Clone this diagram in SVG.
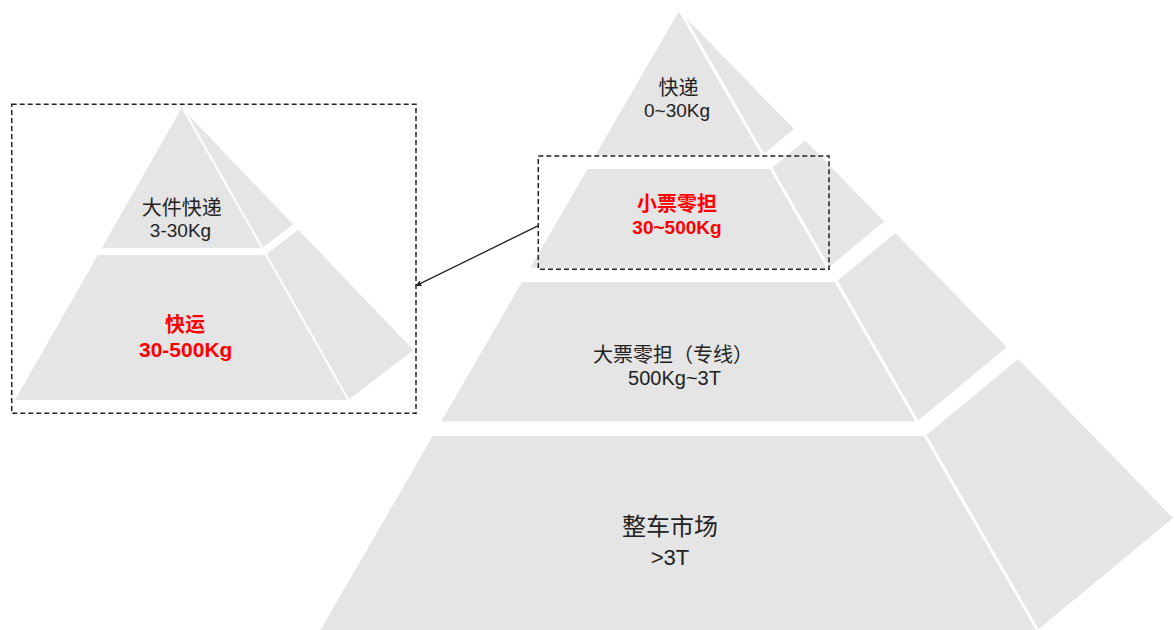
<svg xmlns="http://www.w3.org/2000/svg" width="1174" height="630" viewBox="0 0 1174 630">
  <style>
    .face { fill: #e5e5e5; }
    .sep { stroke: #ffffff; stroke-width: 3; fill: none; }
    .sepS { stroke: #ffffff; stroke-width: 2; fill: none; }
    .box { fill: none; stroke: #222222; stroke-width: 1.5; stroke-dasharray: 5 3; }
    .t { font-family: "Liberation Sans", "Noto Sans CJK SC", sans-serif; text-anchor: middle; fill: #222222; }
    .r { font-family: "Liberation Sans", "Noto Sans CJK SC", sans-serif; text-anchor: middle; fill: #ff0000; font-weight: bold; }
    .conn { stroke: #222222; stroke-width: 1.3; fill: none; }
  </style>
  <defs>
    <marker id="arrow" viewBox="0 0 10 10" refX="9" refY="5" markerWidth="6" markerHeight="6" orient="auto" markerUnits="userSpaceOnUse">
      <path d="M0,0 L10,5 L0,10 z" fill="#222222"/>
    </marker>
  </defs>

  <!-- Big pyramid -->
  <g id="big-tier1">
    <polygon class="face" points="679,11 595.6,155 762.4,155"/>
    <polygon class="face" points="679,11 762.4,155 793.9,128.9"/>
    <text class="t" x="678.5" y="95" font-size="20">快递</text>
    <text class="t" x="677" y="117" font-size="19">0~30Kg</text>
  </g>
  <g id="big-tier2">
    <polygon class="face" points="587.5,169 770.5,169 827.9,268 530.1,268"/>
    <polygon class="face" points="770.5,169 805.1,140.4 884.1,221.5 827.9,268"/>
    <text class="r" x="677" y="211" font-size="20">小票零担</text>
    <text class="r" x="677" y="234" font-size="19">30~500Kg</text>
  </g>
  <g id="big-tier3">
    <polygon class="face" points="522,282 836,282 916.8,421.5 441.2,421.5"/>
    <polygon class="face" points="836,282 895.3,233 1006.6,347.2 916.8,421.5"/>
    <text class="t" x="673" y="362" font-size="20">大票零担（专线）</text>
    <text class="t" x="674.5" y="385" font-size="20">500Kg~3T</text>
  </g>
  <g id="big-tier4">
    <polygon class="face" points="432.8,436 925.2,436 1037.5,630 320.5,630"/>
    <polygon class="face" points="925.2,436 1018.2,359.1 1173,518 1037.5,630"/>
    <text class="t" x="670" y="535" font-size="24">整车市场</text>
    <text class="t" x="670" y="565" font-size="22">&gt;3T</text>
  </g>
  <line class="sep" x1="679" y1="9" x2="1038.6" y2="632"/>

  <!-- Small pyramid -->
  <g id="small-tier1">
    <polygon class="face" points="181.7,108 101.6,248.3 261.8,248.3"/>
    <polygon class="face" points="181.7,108 261.8,248.3 293,224.3"/>
    <text class="t" x="181.7" y="215" font-size="20">大件快递</text>
    <text class="t" x="180.5" y="236.5" font-size="19">3-30Kg</text>
  </g>
  <g id="small-tier2">
    <polygon class="face" points="97.8,255 265.6,255 348.3,400 15,400"/>
    <polygon class="face" points="265.6,255 298.3,229.8 413.3,350 348.3,400"/>
    <text class="r" x="185" y="332" font-size="20">快运</text>
    <text class="r" x="185.7" y="356.5" font-size="21">30-500Kg</text>
  </g>
  <line class="sepS" x1="181.7" y1="106" x2="349.3" y2="401.5"/>

  <!-- Dashed boxes -->
  <g id="box-small">
    <rect class="box" x="11.7" y="104.3" width="404.3" height="309"/>
  </g>
  <g id="box-highlight">
    <rect class="box" x="538.3" y="156" width="290.7" height="113.3"/>
  </g>

  <!-- Connectors -->
  <g id="connectors">
    <line class="conn" x1="538.3" y1="225.7" x2="416" y2="285.7" marker-end="url(#arrow)"/>
  </g>
</svg>
